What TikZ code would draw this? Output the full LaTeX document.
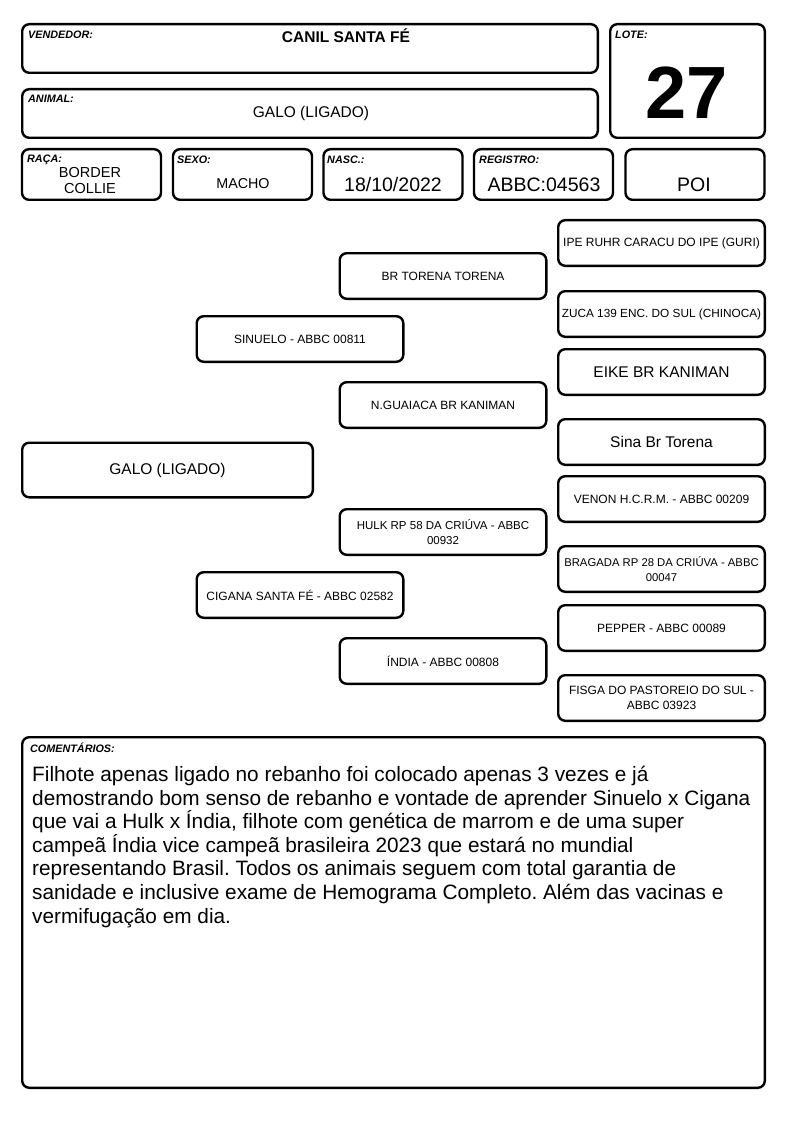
\documentclass[tikz,border=0pt]{standalone}
\usepackage{fontspec}
\setmainfont{Liberation Sans}
\frenchspacing
\begin{document}
\begin{tikzpicture}[x=1pt,y=-1pt,
  box/.style={draw, line width=2.4pt, rounded corners=7pt, inner sep=2pt, align=center},
  lbl/.style={anchor=base west, inner sep=0pt, font=\fontsize{10.8}{12}\selectfont\bfseries\itshape},
  val/.style={anchor=base, inner sep=0pt},
  ped/.style={box, inner sep=0pt, minimum width=206.6, minimum height=45.6, font=\fontsize{12}{15}\selectfont},
  pedbig/.style={box, minimum width=206.6, minimum height=45.6, font=\fontsize{15.5}{18}\selectfont},
  small/.style={box, minimum width=139, minimum height=50.6}]
\useasboundingbox (0,0) rectangle (794,1123);

% header boxes
\node[box, minimum width=575.6, minimum height=48.6] (vend) at (310,48.5) {};
\node[box, minimum width=154.6, minimum height=113.6] (lote) at (687.5,81) {};
\node[box, minimum width=575.6, minimum height=48.6] (animal) at (310,113.5) {};
\node[small] (raca) at (91.5,174.5) {};
\node[small] (sexo) at (242.5,174.5) {};
\node[small] (nasc) at (393,174.5) {};
\node[small] (reg) at (543.5,174.5) {};
\node[small] (poi) at (695,174.5) {};

% labels
\node[lbl] (vendl) at (28,39) {VENDEDOR:};
\node[lbl] (lotel) at (615,39) {LOTE:};
\node[lbl] (animall) at (28,103) {ANIMAL:};
\node[lbl] (racal) at (27,163) {RAÇA:};
\node[lbl] (sexol) at (177,164) {SEXO:};
\node[lbl] (nascl) at (327,164) {NASC.:};
\node[lbl] (regl) at (479,164) {REGISTRO:};

% values
\node[val, font=\fontsize{15.5}{18}\selectfont\bfseries] (vendv) at (346,43) {CANIL SANTA FÉ};
\node[val, font=\fontsize{74}{80}\selectfont\bfseries] (lotev) at (687,119) {27};
\node[val, font=\fontsize{15.5}{18}\selectfont] (animalv) at (311,118) {GALO (LIGADO)};
\node[inner sep=0pt, align=center, font=\fontsize{14.5}{16}\selectfont] (racav) at (90,181) {BORDER\\COLLIE};
\node[val, font=\fontsize{14.3}{17}\selectfont] (sexov) at (243,189) {MACHO};
\node[val, font=\fontsize{19.5}{22}\selectfont] (nascv) at (393,192) {18/10/2022};
\node[val, font=\fontsize{19.5}{22}\selectfont] (regv) at (544,192) {ABBC:04563};
\node[val, font=\fontsize{19.5}{22}\selectfont] (poiv) at (694,192) {POI};

% pedigree
\node[box, minimum width=290.6, minimum height=54.6, font=\fontsize{15.5}{18}\selectfont] (galo) at (167.5,470) {GALO (LIGADO)};
\node[ped] (sinuelo) at (300,339) {SINUELO - ABBC 00811};
\node[ped] (cigana) at (300,595) {CIGANA SANTA FÉ - ABBC 02582};
\node[ped] (brtorena) at (443,276) {BR TORENA TORENA};
\node[ped] (nguaiaca) at (443,405) {N.GUAIACA BR KANIMAN};
\node[ped, font=\fontsize{11.5}{15}\selectfont] (hulk) at (443,532) {HULK RP 58 DA CRIÚVA - ABBC\\00932};
\node[ped] (india) at (443,661) {ÍNDIA - ABBC 00808};
\node[ped] (ipe) at (661.5,243) {IPE RUHR CARACU DO IPE (GURI)};
\node[ped, font=\fontsize{11.8}{15}\selectfont] (zuca) at (661.5,314) {ZUCA 139 ENC. DO SUL (CHINOCA)};
\node[pedbig] (eike) at (661.5,372) {EIKE BR KANIMAN};
\node[pedbig] (sina) at (661.5,442) {Sina Br Torena};
\node[ped] (venon) at (661.5,499) {VENON H.C.R.M. - ABBC 00209};
\node[ped, font=\fontsize{11.3}{15}\selectfont] (bragada) at (661.5,569) {BRAGADA RP 28 DA CRIÚVA - ABBC\\00047};
\node[ped] (pepper) at (661.5,628) {PEPPER - ABBC 00089};
\node[ped] (fisga) at (661.5,698) {FISGA DO PASTOREIO DO SUL -\\ABBC 03923};

% comments
\node[box, minimum width=742.6, minimum height=350.6] (coment) at (393.5,912.5) {};
\node[lbl] (comentl) at (30,752) {COMENTÁRIOS:};
\node[anchor=north west, inner sep=0pt, align=left, font=\fontsize{20.8}{23.6}\selectfont] (comentv) at (32,766) {Filhote apenas ligado no rebanho foi colocado apenas 3 vezes e já\\
demostrando bom senso de rebanho e vontade de aprender Sinuelo x Cigana\\
que vai a Hulk x Índia, filhote com genética de marrom e de uma super\\
campeã Índia vice campeã brasileira 2023 que estará no mundial\\
representando Brasil. Todos os animais seguem com total garantia de\\
sanidade e inclusive exame de Hemograma Completo. Além das vacinas e\\
vermifugação em dia.};
\end{tikzpicture}
\end{document}
